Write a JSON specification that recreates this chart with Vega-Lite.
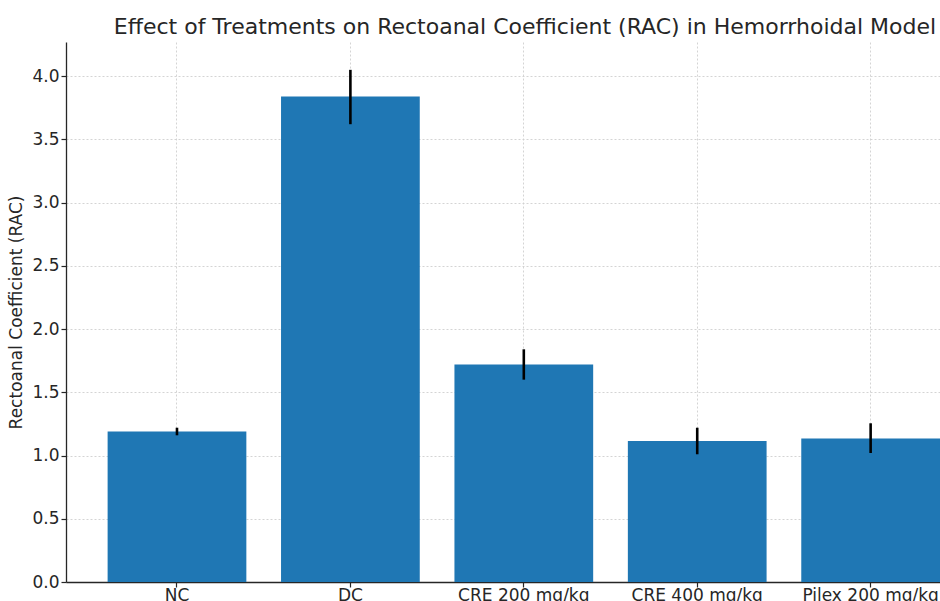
{
  "$schema": "https://vega.github.io/schema/vega-lite/v6.json",
  "width": 874,
  "height": 540,
  "autosize": {"type": "none"},
  "padding": {"left": 66, "top": 42, "right": 0, "bottom": 19},
  "background": "white",
  "title": {
    "text": "Effect of Treatments on Rectoanal Coefficient (RAC) in Hemorrhoidal Model",
    "font": "DejaVu Sans",
    "fontSize": 22,
    "fontWeight": "normal",
    "color": "#262626",
    "anchor": "middle",
    "dx": 22,
    "dy": 21,
    "baseline": "bottom",
    "offset": 2
  },
  "config": {
    "view": {"stroke": null},
    "axis": {
      "labelFont": "DejaVu Sans",
      "titleFont": "DejaVu Sans",
      "labelColor": "#262626",
      "titleColor": "#262626",
      "titleFontWeight": "normal",
      "domainColor": "#262626",
      "domainWidth": 1.3,
      "tickColor": "#262626",
      "tickWidth": 1.2,
      "tickSize": 5,
      "gridColor": "#cfcfcf",
      "gridDash": [2, 2],
      "gridWidth": 0.9
    }
  },
  "data": {
    "values": [
      {"group": "NC", "rac": 1.19, "lo": 1.16, "hi": 1.22},
      {"group": "DC", "rac": 3.84, "lo": 3.62, "hi": 4.05},
      {"group": "CRE 200 mg/kg", "rac": 1.72, "lo": 1.6, "hi": 1.84},
      {"group": "CRE 400 mg/kg", "rac": 1.115, "lo": 1.01, "hi": 1.22},
      {"group": "Pilex 200 mg/kg", "rac": 1.135, "lo": 1.02, "hi": 1.255}
    ]
  },
  "encoding": {
    "x": {
      "field": "group",
      "type": "nominal",
      "sort": null,
      "scale": {"paddingInner": 0.2, "paddingOuter": 0.12, "align": 1},
      "axis": {
        "title": null,
        "labelAngle": 0,
        "labelFontSize": 17,
        "labelPadding": 0,
        "bandPosition": 0.5,
        "grid": true,
        "labelOverlap": false
      }
    }
  },
  "layer": [
    {
      "mark": {"type": "bar", "color": "#1f77b4"},
      "encoding": {
        "y": {
          "field": "rac",
          "type": "quantitative",
          "scale": {"domain": [0, 4.27], "nice": false, "zero": true},
          "axis": {
            "title": "Rectoanal Coefficient (RAC)",
            "titleFontSize": 17,
            "titlePadding": 6,
            "labelFontSize": 17,
            "labelPadding": 2,
            "values": [0, 0.5, 1, 1.5, 2, 2.5, 3, 3.5, 4],
            "format": ".1f",
            "grid": true
          }
        }
      }
    },
    {
      "mark": {"type": "rule", "color": "black", "strokeWidth": 2.6},
      "encoding": {
        "y": {"field": "lo", "type": "quantitative"},
        "y2": {"field": "hi"}
      }
    }
  ]
}
